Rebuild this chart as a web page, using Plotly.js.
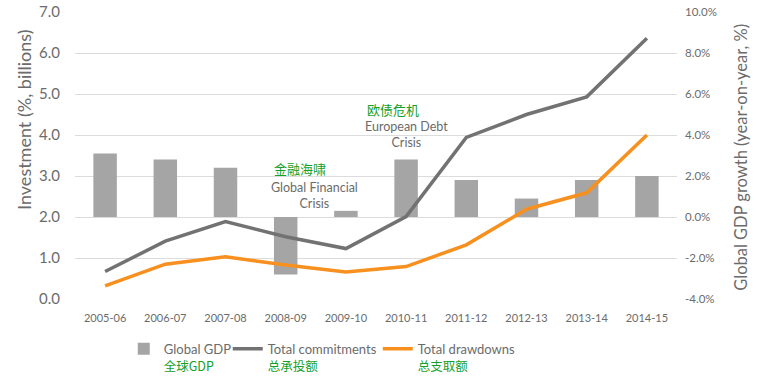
<!DOCTYPE html>
<html><head><meta charset="utf-8">
<script src="https://cdn.plot.ly/plotly-3.0.1.min.js"></script>
<style>html,body{margin:0;padding:0;background:#fff}#c{width:758px;height:376px}</style>
</head><body><div id="c"></div>
<script>
const years = ["2005-06","2006-07","2007-08","2008-09","2009-10","2010-11","2011-12","2012-13","2013-14","2014-15"];
const globalGDP = [3.1, 2.8, 2.4, -2.8, 0.3, 2.8, 1.8, 0.9, 1.8, 2.0];
const totalCommitments = [0.67, 1.41, 1.89, 1.52, 1.23, 2.01, 3.94, 4.5, 4.93, 6.36];
const totalDrawdowns = [0.32, 0.85, 1.03, 0.83, 0.66, 0.79, 1.32, 2.19, 2.59, 4.0];
const leftTicks = [0,1,2,3,4,5,6,7];
const rightTicks = [-4,-2,0,2,4,6,8,10];

const FONT = "Lato, 'Open Sans', sans-serif";
const GREEN = "#14A02A";
const TXT = "#6b6b6b";
const cn = s => "<br><span style='color:"+GREEN+";font-family:Noto Sans CJK SC;font-size:12.5px'>"+s+"</span>";

const traces = [
  {type:"bar", x:years, y:globalGDP, yaxis:"y", name:"Global GDP"+cn("全球GDP"),
   marker:{color:"#A5A5A5"}, width:0.39, legendwidth:59},
  {type:"scatter", mode:"lines", x:years, y:totalCommitments, yaxis:"y2", name:"Total commitments"+cn("总承投额"),
   line:{color:"#727272", width:3.5}, legendwidth:105},
  {type:"scatter", mode:"lines", x:years, y:totalDrawdowns, yaxis:"y2", name:"Total drawdowns"+cn("总支取额"),
   line:{color:"#F7901E", width:3.5}, legendwidth:100}
];

const layout = {
  width:758, height:376,
  margin:{l:75, r:81, t:12, b:77, autoexpand:false},
  paper_bgcolor:"#fff", plot_bgcolor:"#fff",
  font:{family:FONT, color:TXT},
  showlegend:true,
  legend:{orientation:"h", x:0.081, xanchor:"left", yref:"container", y:0.112, yanchor:"top",
          font:{family:FONT, size:13, color:TXT}, valign:"top", itemwidth:30, traceorder:"normal"},
  xaxis:{type:"category", tickfont:{size:11, color:TXT}, showgrid:false, zeroline:false, showline:false, ticks:"", ticklabelstandoff:11},
  yaxis:{side:"right", range:[-4,10], tickvals:rightTicks, ticktext:rightTicks.map(v=>v.toFixed(1)+"%"),
         tickfont:{size:11.5, color:TXT}, showgrid:true, gridcolor:"#DCDCDC", gridwidth:1, zeroline:false, showline:false, ticks:"", ticklabelstandoff:7},
  yaxis2:{side:"left", overlaying:"y", range:[0,7], tickvals:leftTicks, ticktext:leftTicks.map(v=>v.toFixed(1)),
          tickfont:{size:15, color:TXT}, showgrid:false, zeroline:false, showline:false, ticks:"", ticklabelstandoff:14},
  annotations:[
    {xref:"paper", yref:"paper", x:-0.0847, y:0.624, text:"Investment (%, billions)", textangle:-90, showarrow:false,
     font:{family:FONT, size:18, color:TXT}, xanchor:"center", yanchor:"middle"},
    {xref:"paper", yref:"paper", x:1.106, y:0.495, text:"Global GDP growth (year-on-year, %)", textangle:-90, showarrow:false,
     font:{family:FONT, size:16.5, color:TXT}, xanchor:"center", yanchor:"middle"},
    {xref:"x", yref:"paper", x:"2008-09", xshift:-14, y:0.455, text:"金融海啸", showarrow:false, xanchor:"left", yanchor:"middle",
     font:{family:"Noto Sans CJK SC", size:13, color:GREEN}},
    {xref:"x", yref:"paper", x:"2008-09", xshift:29, y:0.362, text:"Global Financial<br>Crisis", showarrow:false, xanchor:"center", yanchor:"middle",
     font:{family:FONT, size:12.5, color:TXT}, align:"center"},
    {xref:"x", yref:"paper", x:"2009-10", xshift:47, y:0.662, text:"欧债危机", showarrow:false, xanchor:"center", yanchor:"middle",
     font:{family:"Noto Sans CJK SC", size:13, color:GREEN}},
    {xref:"x", yref:"paper", x:"2010-11", xshift:0, y:0.572, text:"European Debt<br>Crisis", showarrow:false, xanchor:"center", yanchor:"middle",
     font:{family:FONT, size:12.5, color:TXT}, align:"center"}
  ]
};
Plotly.newPlot("c", traces, layout, {displayModeBar:false, staticPlot:true});
</script></body></html>
